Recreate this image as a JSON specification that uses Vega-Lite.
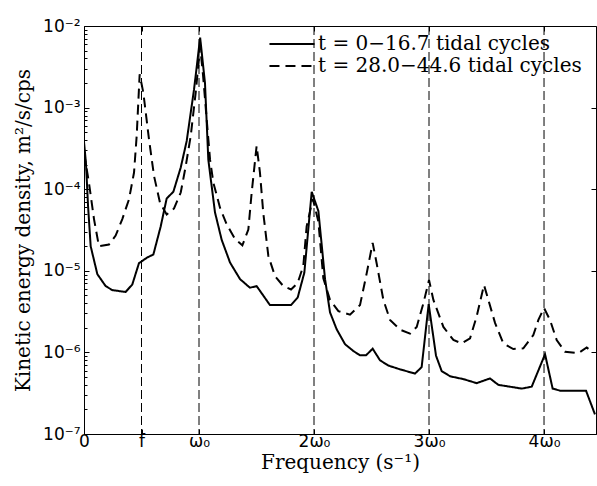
{
  "$schema": "https://vega.github.io/schema/vega-lite/v6.json",
  "width": 512,
  "height": 408,
  "autosize": {"type": "none"},
  "padding": {"left": 84, "top": 26, "right": 1, "bottom": 52},
  "background": "white",
  "config": {
    "view": {"stroke": "black", "strokeWidth": 1},
    "axis": {"grid": false, "domainColor": "black", "tickColor": "black", "labelColor": "black", "titleColor": "black", "labelFont": "DejaVu Sans", "labelFontSize": 17, "titleFont": "DejaVu Serif", "titleFontSize": 20, "titleFontWeight": "normal", "domainWidth": 1, "tickWidth": 1},
    "legend": {"labelFont": "DejaVu Serif", "labelFontSize": 20, "labelColor": "black", "labelLimit": 0}
  },
  "datasets": {
    "spec": [
      {"f": 0, "e": 3.8e-4, "s": "t = 0−16.7 tidal cycles"},
      {"f": 0.017, "e": 2.09e-4, "s": "t = 0−16.7 tidal cycles"},
      {"f": 0.035, "e": 6.3e-5, "s": "t = 0−16.7 tidal cycles"},
      {"f": 0.058, "e": 2.0e-5, "s": "t = 0−16.7 tidal cycles"},
      {"f": 0.116, "e": 9.1e-6, "s": "t = 0−16.7 tidal cycles"},
      {"f": 0.188, "e": 6.5e-6, "s": "t = 0−16.7 tidal cycles"},
      {"f": 0.246, "e": 5.8e-6, "s": "t = 0−16.7 tidal cycles"},
      {"f": 0.362, "e": 5.5e-6, "s": "t = 0−16.7 tidal cycles"},
      {"f": 0.42, "e": 6.8e-6, "s": "t = 0−16.7 tidal cycles"},
      {"f": 0.478, "e": 1.24e-5, "s": "t = 0−16.7 tidal cycles"},
      {"f": 0.551, "e": 1.46e-5, "s": "t = 0−16.7 tidal cycles"},
      {"f": 0.603, "e": 1.58e-5, "s": "t = 0−16.7 tidal cycles"},
      {"f": 0.667, "e": 3.5e-5, "s": "t = 0−16.7 tidal cycles"},
      {"f": 0.719, "e": 7.7e-5, "s": "t = 0−16.7 tidal cycles"},
      {"f": 0.777, "e": 9.3e-5, "s": "t = 0−16.7 tidal cycles"},
      {"f": 0.841, "e": 1.84e-4, "s": "t = 0−16.7 tidal cycles"},
      {"f": 0.893, "e": 3.9e-4, "s": "t = 0−16.7 tidal cycles"},
      {"f": 0.957, "e": 1.68e-3, "s": "t = 0−16.7 tidal cycles"},
      {"f": 1.01, "e": 7.2e-3, "s": "t = 0−16.7 tidal cycles"},
      {"f": 1.052, "e": 2.0e-3, "s": "t = 0−16.7 tidal cycles"},
      {"f": 1.081, "e": 2.3e-4, "s": "t = 0−16.7 tidal cycles"},
      {"f": 1.139, "e": 5.2e-5, "s": "t = 0−16.7 tidal cycles"},
      {"f": 1.197, "e": 2.4e-5, "s": "t = 0−16.7 tidal cycles"},
      {"f": 1.27, "e": 1.26e-5, "s": "t = 0−16.7 tidal cycles"},
      {"f": 1.357, "e": 7.9e-6, "s": "t = 0−16.7 tidal cycles"},
      {"f": 1.443, "e": 6.2e-6, "s": "t = 0−16.7 tidal cycles"},
      {"f": 1.501, "e": 6.5e-6, "s": "t = 0−16.7 tidal cycles"},
      {"f": 1.617, "e": 3.8e-6, "s": "t = 0−16.7 tidal cycles"},
      {"f": 1.8, "e": 3.8e-6, "s": "t = 0−16.7 tidal cycles"},
      {"f": 1.858, "e": 4.7e-6, "s": "t = 0−16.7 tidal cycles"},
      {"f": 1.916, "e": 9.5e-6, "s": "t = 0−16.7 tidal cycles"},
      {"f": 1.98, "e": 9.3e-5, "s": "t = 0−16.7 tidal cycles"},
      {"f": 2.038, "e": 5.4e-5, "s": "t = 0−16.7 tidal cycles"},
      {"f": 2.096, "e": 7.9e-6, "s": "t = 0−16.7 tidal cycles"},
      {"f": 2.139, "e": 3.1e-6, "s": "t = 0−16.7 tidal cycles"},
      {"f": 2.197, "e": 1.92e-6, "s": "t = 0−16.7 tidal cycles"},
      {"f": 2.27, "e": 1.26e-6, "s": "t = 0−16.7 tidal cycles"},
      {"f": 2.342, "e": 1.04e-6, "s": "t = 0−16.7 tidal cycles"},
      {"f": 2.4, "e": 9.2e-7, "s": "t = 0−16.7 tidal cycles"},
      {"f": 2.452, "e": 9.2e-7, "s": "t = 0−16.7 tidal cycles"},
      {"f": 2.51, "e": 1.11e-6, "s": "t = 0−16.7 tidal cycles"},
      {"f": 2.574, "e": 8.0e-7, "s": "t = 0−16.7 tidal cycles"},
      {"f": 2.646, "e": 6.9e-7, "s": "t = 0−16.7 tidal cycles"},
      {"f": 2.748, "e": 6.2e-7, "s": "t = 0−16.7 tidal cycles"},
      {"f": 2.878, "e": 5.5e-7, "s": "t = 0−16.7 tidal cycles"},
      {"f": 2.936, "e": 6.6e-7, "s": "t = 0−16.7 tidal cycles"},
      {"f": 2.997, "e": 3.9e-6, "s": "t = 0−16.7 tidal cycles"},
      {"f": 3.061, "e": 9.1e-7, "s": "t = 0−16.7 tidal cycles"},
      {"f": 3.11, "e": 5.9e-7, "s": "t = 0−16.7 tidal cycles"},
      {"f": 3.183, "e": 5.1e-7, "s": "t = 0−16.7 tidal cycles"},
      {"f": 3.3, "e": 4.7e-7, "s": "t = 0−16.7 tidal cycles"},
      {"f": 3.414, "e": 4.2e-7, "s": "t = 0−16.7 tidal cycles"},
      {"f": 3.53, "e": 4.8e-7, "s": "t = 0−16.7 tidal cycles"},
      {"f": 3.603, "e": 4.0e-7, "s": "t = 0−16.7 tidal cycles"},
      {"f": 3.704, "e": 3.8e-7, "s": "t = 0−16.7 tidal cycles"},
      {"f": 3.806, "e": 3.6e-7, "s": "t = 0−16.7 tidal cycles"},
      {"f": 3.893, "e": 3.8e-7, "s": "t = 0−16.7 tidal cycles"},
      {"f": 4.009, "e": 9.5e-7, "s": "t = 0−16.7 tidal cycles"},
      {"f": 4.075, "e": 3.6e-7, "s": "t = 0−16.7 tidal cycles"},
      {"f": 4.139, "e": 3.4e-7, "s": "t = 0−16.7 tidal cycles"},
      {"f": 4.365, "e": 3.4e-7, "s": "t = 0−16.7 tidal cycles"},
      {"f": 4.443, "e": 1.74e-7, "s": "t = 0−16.7 tidal cycles"},
      {"f": 0, "e": 2.8e-4, "s": "t = 28.0−44.6 tidal cycles"},
      {"f": 0.043, "e": 1.2e-4, "s": "t = 28.0−44.6 tidal cycles"},
      {"f": 0.087, "e": 4.3e-5, "s": "t = 28.0−44.6 tidal cycles"},
      {"f": 0.13, "e": 2.0e-5, "s": "t = 28.0−44.6 tidal cycles"},
      {"f": 0.217, "e": 2.1e-5, "s": "t = 28.0−44.6 tidal cycles"},
      {"f": 0.275, "e": 2.7e-5, "s": "t = 28.0−44.6 tidal cycles"},
      {"f": 0.333, "e": 4.3e-5, "s": "t = 28.0−44.6 tidal cycles"},
      {"f": 0.391, "e": 7.5e-5, "s": "t = 28.0−44.6 tidal cycles"},
      {"f": 0.435, "e": 1.6e-4, "s": "t = 28.0−44.6 tidal cycles"},
      {"f": 0.458, "e": 4.5e-4, "s": "t = 28.0−44.6 tidal cycles"},
      {"f": 0.484, "e": 2.56e-3, "s": "t = 28.0−44.6 tidal cycles"},
      {"f": 0.516, "e": 1.52e-3, "s": "t = 28.0−44.6 tidal cycles"},
      {"f": 0.565, "e": 4.1e-4, "s": "t = 28.0−44.6 tidal cycles"},
      {"f": 0.609, "e": 1.45e-4, "s": "t = 28.0−44.6 tidal cycles"},
      {"f": 0.661, "e": 6.8e-5, "s": "t = 28.0−44.6 tidal cycles"},
      {"f": 0.719, "e": 4.9e-5, "s": "t = 28.0−44.6 tidal cycles"},
      {"f": 0.783, "e": 5.8e-5, "s": "t = 28.0−44.6 tidal cycles"},
      {"f": 0.841, "e": 9.1e-5, "s": "t = 28.0−44.6 tidal cycles"},
      {"f": 0.884, "e": 1.9e-4, "s": "t = 28.0−44.6 tidal cycles"},
      {"f": 0.928, "e": 4.5e-4, "s": "t = 28.0−44.6 tidal cycles"},
      {"f": 0.971, "e": 1.52e-3, "s": "t = 28.0−44.6 tidal cycles"},
      {"f": 1.01, "e": 5.6e-3, "s": "t = 28.0−44.6 tidal cycles"},
      {"f": 1.035, "e": 2.5e-3, "s": "t = 28.0−44.6 tidal cycles"},
      {"f": 1.096, "e": 2.3e-4, "s": "t = 28.0−44.6 tidal cycles"},
      {"f": 1.125, "e": 1.2e-4, "s": "t = 28.0−44.6 tidal cycles"},
      {"f": 1.183, "e": 5.9e-5, "s": "t = 28.0−44.6 tidal cycles"},
      {"f": 1.241, "e": 3.7e-5, "s": "t = 28.0−44.6 tidal cycles"},
      {"f": 1.313, "e": 2.45e-5, "s": "t = 28.0−44.6 tidal cycles"},
      {"f": 1.377, "e": 2.05e-5, "s": "t = 28.0−44.6 tidal cycles"},
      {"f": 1.429, "e": 3.2e-5, "s": "t = 28.0−44.6 tidal cycles"},
      {"f": 1.458, "e": 9.1e-5, "s": "t = 28.0−44.6 tidal cycles"},
      {"f": 1.501, "e": 3.4e-4, "s": "t = 28.0−44.6 tidal cycles"},
      {"f": 1.53, "e": 1.6e-4, "s": "t = 28.0−44.6 tidal cycles"},
      {"f": 1.559, "e": 5.1e-5, "s": "t = 28.0−44.6 tidal cycles"},
      {"f": 1.603, "e": 1.52e-5, "s": "t = 28.0−44.6 tidal cycles"},
      {"f": 1.661, "e": 8.6e-6, "s": "t = 28.0−44.6 tidal cycles"},
      {"f": 1.733, "e": 6.5e-6, "s": "t = 28.0−44.6 tidal cycles"},
      {"f": 1.8, "e": 5.9e-6, "s": "t = 28.0−44.6 tidal cycles"},
      {"f": 1.858, "e": 7.1e-6, "s": "t = 28.0−44.6 tidal cycles"},
      {"f": 1.907, "e": 1.15e-5, "s": "t = 28.0−44.6 tidal cycles"},
      {"f": 1.936, "e": 3.5e-5, "s": "t = 28.0−44.6 tidal cycles"},
      {"f": 1.99, "e": 7.6e-5, "s": "t = 28.0−44.6 tidal cycles"},
      {"f": 2.038, "e": 4.0e-5, "s": "t = 28.0−44.6 tidal cycles"},
      {"f": 2.081, "e": 8.1e-6, "s": "t = 28.0−44.6 tidal cycles"},
      {"f": 2.139, "e": 4.4e-6, "s": "t = 28.0−44.6 tidal cycles"},
      {"f": 2.212, "e": 3.2e-6, "s": "t = 28.0−44.6 tidal cycles"},
      {"f": 2.313, "e": 2.9e-6, "s": "t = 28.0−44.6 tidal cycles"},
      {"f": 2.4, "e": 3.8e-6, "s": "t = 28.0−44.6 tidal cycles"},
      {"f": 2.458, "e": 9.3e-6, "s": "t = 28.0−44.6 tidal cycles"},
      {"f": 2.51, "e": 2.2e-5, "s": "t = 28.0−44.6 tidal cycles"},
      {"f": 2.545, "e": 1.23e-5, "s": "t = 28.0−44.6 tidal cycles"},
      {"f": 2.603, "e": 4.4e-6, "s": "t = 28.0−44.6 tidal cycles"},
      {"f": 2.661, "e": 2.5e-6, "s": "t = 28.0−44.6 tidal cycles"},
      {"f": 2.748, "e": 1.9e-6, "s": "t = 28.0−44.6 tidal cycles"},
      {"f": 2.835, "e": 1.7e-6, "s": "t = 28.0−44.6 tidal cycles"},
      {"f": 2.893, "e": 2.05e-6, "s": "t = 28.0−44.6 tidal cycles"},
      {"f": 2.951, "e": 4.0e-6, "s": "t = 28.0−44.6 tidal cycles"},
      {"f": 3.0, "e": 7.7e-6, "s": "t = 28.0−44.6 tidal cycles"},
      {"f": 3.038, "e": 4.4e-6, "s": "t = 28.0−44.6 tidal cycles"},
      {"f": 3.125, "e": 2.05e-6, "s": "t = 28.0−44.6 tidal cycles"},
      {"f": 3.212, "e": 1.42e-6, "s": "t = 28.0−44.6 tidal cycles"},
      {"f": 3.284, "e": 1.29e-6, "s": "t = 28.0−44.6 tidal cycles"},
      {"f": 3.357, "e": 1.49e-6, "s": "t = 28.0−44.6 tidal cycles"},
      {"f": 3.414, "e": 2.75e-6, "s": "t = 28.0−44.6 tidal cycles"},
      {"f": 3.478, "e": 6.7e-6, "s": "t = 28.0−44.6 tidal cycles"},
      {"f": 3.516, "e": 4.4e-6, "s": "t = 28.0−44.6 tidal cycles"},
      {"f": 3.574, "e": 2.3e-6, "s": "t = 28.0−44.6 tidal cycles"},
      {"f": 3.646, "e": 1.29e-6, "s": "t = 28.0−44.6 tidal cycles"},
      {"f": 3.733, "e": 1.1e-6, "s": "t = 28.0−44.6 tidal cycles"},
      {"f": 3.82, "e": 1.12e-6, "s": "t = 28.0−44.6 tidal cycles"},
      {"f": 3.907, "e": 1.63e-6, "s": "t = 28.0−44.6 tidal cycles"},
      {"f": 3.951, "e": 2.5e-6, "s": "t = 28.0−44.6 tidal cycles"},
      {"f": 4.0, "e": 3.5e-6, "s": "t = 28.0−44.6 tidal cycles"},
      {"f": 4.052, "e": 2.5e-6, "s": "t = 28.0−44.6 tidal cycles"},
      {"f": 4.11, "e": 1.42e-6, "s": "t = 28.0−44.6 tidal cycles"},
      {"f": 4.183, "e": 1.02e-6, "s": "t = 28.0−44.6 tidal cycles"},
      {"f": 4.299, "e": 9.8e-7, "s": "t = 28.0−44.6 tidal cycles"},
      {"f": 4.371, "e": 1.15e-6, "s": "t = 28.0−44.6 tidal cycles"},
      {"f": 4.415, "e": 1.02e-6, "s": "t = 28.0−44.6 tidal cycles"}
    ],
    "marks": [{"v": 0.5}, {"v": 1}, {"v": 2}, {"v": 3}, {"v": 4}]
  },
  "resolve": {"axis": {"x": "independent", "y": "independent"}},
  "layer": [
    {
      "data": {"name": "marks"},
      "mark": {"type": "rule", "color": "black", "strokeWidth": 1, "strokeDash": [9, 4]},
      "encoding": {
        "x": {"field": "v", "type": "quantitative", "scale": {"domain": [0, 4.452], "nice": false, "zero": false},
          "axis": {"orient": "bottom", "values": [0, 0.5, 1, 2, 3, 4], "labelExpr": "datum.value == 0 ? '0' : datum.value == 0.5 ? 'f' : datum.value == 1 ? 'ω₀' : datum.value + 'ω₀'", "tickSize": -5, "labelPadding": 4, "labelFlush": false, "labelOverlap": false, "title": "Frequency (s⁻¹)", "titlePadding": 3}}
      }
    },
    {
      "data": {"name": "spec"},
      "mark": {"type": "line", "color": "black", "strokeWidth": 2, "clip": true},
      "encoding": {
        "x": {"field": "f", "type": "quantitative", "axis": {"orient": "top", "values": [0.5, 1, 2, 3, 4], "labels": false, "domain": false, "tickSize": -5, "title": null}},
        "y": {"field": "e", "type": "quantitative", "scale": {"type": "log", "domain": [1e-7, 1e-2], "nice": false},
          "axis": {"orient": "left", "values": [1e-7, 1e-6, 1e-5, 1e-4, 1e-3, 1e-2], "labelExpr": "'10' + ['⁻⁷','⁻⁶','⁻⁵','⁻⁴','⁻³','⁻²'][round(log(datum.value)/LN10) + 7]", "tickSize": -5, "labelPadding": 9, "labelFlush": false, "labelOverlap": false, "title": "Kinetic energy density, m²/s/cps", "titlePadding": 9}},
        "strokeDash": {"field": "s", "type": "nominal", "scale": {"domain": ["t = 0−16.7 tidal cycles", "t = 28.0−44.6 tidal cycles"], "range": [[1, 0], [10, 6]]},
          "legend": {"orient": "none", "legendX": 198, "legendY": 8, "title": null, "padding": 0, "symbolType": "M-4,0H4", "symbolSize": 127, "symbolStrokeWidth": 2, "symbolStrokeColor": "black", "labelOffset": 16, "rowPadding": 2, "labelLimit": 0}}
      }
    },
    {
      "data": {"name": "spec"},
      "mark": {"type": "point", "opacity": 0},
      "encoding": {
        "x": {"field": "f", "type": "quantitative", "axis": null},
        "y": {"field": "e", "type": "quantitative",
          "axis": {"orient": "left", "values": [2e-7,3e-7,4e-7,5e-7,6e-7,7e-7,8e-7,9e-7,2e-6,3e-6,4e-6,5e-6,6e-6,7e-6,8e-6,9e-6,2e-5,3e-5,4e-5,5e-5,6e-5,7e-5,8e-5,9e-5,2e-4,3e-4,4e-4,5e-4,6e-4,7e-4,8e-4,9e-4,2e-3,3e-3,4e-3,5e-3,6e-3,7e-3,8e-3,9e-3], "labels": false, "domain": false, "tickSize": -3, "title": null}}
      }
    },
    {
      "data": {"name": "spec"},
      "mark": {"type": "point", "opacity": 0},
      "encoding": {
        "x": {"field": "f", "type": "quantitative", "axis": null},
        "y": {"field": "e", "type": "quantitative",
          "axis": {"orient": "right", "values": [1e-7, 1e-6, 1e-5, 1e-4, 1e-3, 1e-2], "labels": false, "domain": false, "tickSize": -5, "title": null}}
      }
    }
  ]
}
